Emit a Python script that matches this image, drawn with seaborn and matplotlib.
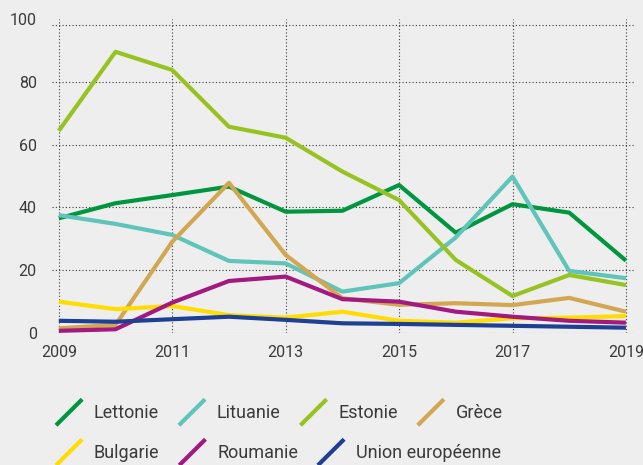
import pandas as pd
import matplotlib
matplotlib.use("Agg")
import matplotlib.pyplot as plt
import seaborn as sns
from matplotlib.lines import Line2D
from matplotlib.legend_handler import HandlerBase

# Données
annees = list(range(2009, 2020))
lettonie = [36.5, 41.3, 43.9, 46.6, 38.6, 38.9, 47.1, 31.9, 41.0, 38.3, 23.0]
lituanie = [37.5, 34.7, 31.2, 22.9, 22.1, 13.1, 15.8, 30.4, 49.8, 19.7, 17.4]
estonie = [64.4, 89.6, 83.8, 65.7, 62.2, 51.4, 42.3, 23.2, 11.7, 18.4, 15.2]
grece = [1.4, 2.5, 29.0, 47.8, 24.8, 11.0, 8.9, 9.4, 8.8, 11.1, 6.7]
bulgarie = [9.9, 7.5, 8.5, 5.6, 4.8, 6.7, 3.8, 3.2, 4.6, 4.8, 5.3]
roumanie = [0.6, 1.1, 9.6, 16.5, 17.9, 10.7, 9.9, 6.7, 5.1, 3.8, 3.2]
ue = [3.8, 3.5, 4.3, 5.1, 4.1, 3.0, 2.8, 2.5, 2.2, 1.9, 1.6]

pays = ["Lettonie", "Lituanie", "Estonie", "Grèce", "Bulgarie", "Roumanie", "Union européenne"]
series = [lettonie, lituanie, estonie, grece, bulgarie, roumanie, ue]
couleurs = ["#00963f", "#5fc4b9", "#97c322", "#d3a651", "#ffdd00", "#a2197f", "#1d3f94"]

df = pd.concat([pd.DataFrame({"annee": annees, "valeur": v, "pays": p})
                for p, v in zip(pays, series)])

fond = "#eeeeee"
texte = "#3a3a3a"

sns.set_style("white")
plt.rcParams["font.family"] = ["Roboto", "DejaVu Sans"]

fig = plt.figure(figsize=(6.43, 4.65), dpi=100, facecolor=fond)
ax = fig.add_axes([52 / 643, 1 - 332.7 / 465, 583 / 643, (332.7 - 19.2) / 465])
ax.set_facecolor(fond)

sns.lineplot(data=df, x="annee", y="valeur", hue="pays", hue_order=pays,
             palette=couleurs, linewidth=3, legend=False, ax=ax,
             solid_capstyle="butt")

ax.set_xlim(2008.88, 2019.16)
ax.set_ylim(0, 100)
ax.set_xticks(range(2009, 2020, 2))
ax.set_yticks(range(0, 101, 20))
ax.set_xlabel("")
ax.set_ylabel("")
for s in ax.spines.values():
    s.set_visible(False)

# grille pointillée
pointille = (0, (1, 2))
ax.grid(axis="x", linestyle=pointille, color="#3a3a3a", linewidth=0.8)
for y in [0, 20, 40, 60, 80, 98]:
    ax.axhline(y, linestyle=pointille, color="#3a3a3a", linewidth=0.8, zorder=0.5)
ax.set_axisbelow(True)

ax.tick_params(axis="y", length=0, pad=11, labelsize=11.5, labelcolor=texte)
ax.tick_params(axis="x", length=0, pad=8.5, labelsize=11.5, labelcolor=texte)


class DiagHandler(HandlerBase):
    def create_artists(self, legend, orig_handle, xdescent, ydescent,
                       width, height, fontsize, trans):
        ln = Line2D([-xdescent, -xdescent + width],
                    [-ydescent - 0.25 * height, -ydescent + 1.25 * height],
                    color=orig_handle.get_color(), linewidth=3,
                    solid_capstyle="butt", transform=trans)
        return [ln]


handles = [Line2D([], [], color=c) for c in couleurs]
rangs = [(0, 4, 413), (4, 7, 453)]
for debut, fin, yc in rangs:
    leg = fig.legend(handles[debut:fin], pays[debut:fin], ncol=fin - debut,
                     loc="center left", bbox_to_anchor=(56 / 643, 1 - yc / 465),
                     frameon=False, fontsize=13, handlelength=1.45,
                     handleheight=1.1, handletextpad=0.65, columnspacing=1.1,
                     borderpad=0, borderaxespad=0,
                     handler_map={Line2D: DiagHandler()})
    for t in leg.get_texts():
        t.set_color(texte)

fig.savefig("out.png", dpi=100, facecolor=fond)
